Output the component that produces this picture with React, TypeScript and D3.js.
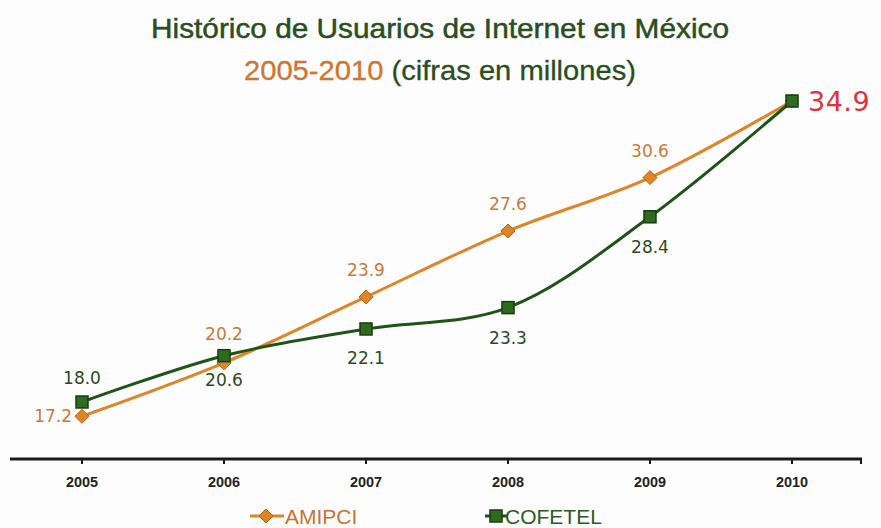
import React from "react";
import * as d3 from "d3";

const years = ["2005", "2006", "2007", "2008", "2009", "2010"];
const amipci = [17.2, 20.2, 23.9, 27.6, 30.6, 34.9];
const cofetel = [18.0, 20.6, 22.1, 23.3, 28.4, 34.9];
const amipciLabels = ["17.2", "20.2", "23.9", "27.6", "30.6", ""];
const cofetelLabels = ["18.0", "20.6", "22.1", "23.3", "28.4", ""];
const finalLabel = "34.9";
const seriesNames = ["AMIPCI", "COFETEL"];

const W = 881;
const H = 528;
const ORANGE = "#E08428";
const ORANGE_TXT = "#C97A3A";
const GREEN = "#1F5417";
const GREEN_TXT = "#2A4A22";

export default function App() {
  const x = d3.scalePoint<string>().domain(years).range([82, 792]);
  const y = d3.scaleLinear().domain([14.8, 34.9]).range([459, 101]);
  const line = d3
    .line<number>()
    .x((_, i) => x(years[i]) as number)
    .y((d) => y(d))
    .curve(d3.curveCatmullRom.alpha(0.5));

  const diamond = (cx: number, cy: number, r = 7) =>
    `M${cx},${cy - r}L${cx + r},${cy}L${cx},${cy + r}L${cx - r},${cy}Z`;

  const labelFont = "'DejaVu Sans', Verdana, sans-serif";
  const sans = "'Liberation Sans', Arial, sans-serif";

  const aPos: [number, number, string][] = [
    [-10, 6, "end"],
    [0, -23, "middle"],
    [0, -21, "middle"],
    [0, -21, "middle"],
    [0, -21, "middle"],
    [0, 0, "middle"],
  ];
  const cPos: [number, number, string][] = [
    [0, -18, "middle"],
    [0, 30, "middle"],
    [0, 35, "middle"],
    [0, 36, "middle"],
    [0, 36, "middle"],
    [0, 0, "middle"],
  ];

  return (
    <svg width={W} height={H} style={{ position: "absolute", left: 0, top: 0, background: "#fdfdfd" }}>
      <rect width={W} height={H} fill="#fdfdfd" />
      <text x={440} y={38} textAnchor="middle" fontFamily={sans} fontSize={28} fill="#2B4E1E" stroke="#2B4E1E" strokeWidth={0.5} textLength={578} lengthAdjust="spacingAndGlyphs">
        Histórico de Usuarios de Internet en México
      </text>
      <text x={440} y={80} textAnchor="middle" fontFamily={sans} fontSize={28} stroke="currentColor" strokeWidth={0.3} textLength={392} lengthAdjust="spacingAndGlyphs">
        <tspan fill="#D0742E" stroke="#D0742E">2005-2010</tspan>
        <tspan fill="#2B4E1E" stroke="#2B4E1E"> (cifras en millones)</tspan>
      </text>

      {/* axis */}
      <line x1={10} x2={862} y1={459} y2={459} stroke="#1a1a1a" strokeWidth={3} />
      {years.map((yr) => (
        <g key={yr}>
          <line x1={x(yr)} x2={x(yr)} y1={459} y2={464} stroke="#1a1a1a" strokeWidth={2} />
          <text x={x(yr)} y={487} textAnchor="middle" fontFamily={sans} fontWeight="bold" fontSize={15} fill="#222" textLength={32} lengthAdjust="spacingAndGlyphs">
            {yr}
          </text>
        </g>
      ))}
      <line x1={861} x2={861} y1={459} y2={464} stroke="#1a1a1a" strokeWidth={2} />

      {/* lines */}
      <path d={line(amipci) || ""} fill="none" stroke={ORANGE} strokeWidth={3} />
      <path d={line(cofetel) || ""} fill="none" stroke={GREEN} strokeWidth={3} />

      {amipci.map((v, i) => (
        <path key={"a" + i} d={diamond(x(years[i]) as number, y(v))} fill={ORANGE} stroke="#B85E10" strokeWidth={1} />
      ))}
      {cofetel.map((v, i) => (
        <rect key={"c" + i} x={(x(years[i]) as number) - 6} y={y(v) - 6} width={12} height={12} fill="#2E6B1E" stroke="#173D10" strokeWidth={1.5} />
      ))}

      {amipci.map((v, i) =>
        amipciLabels[i] ? (
          <text key={"al" + i} x={(x(years[i]) as number) + aPos[i][0]} y={y(v) + aPos[i][1]} textAnchor={aPos[i][2] as any} fontFamily={labelFont} fontSize={17} fill={ORANGE_TXT}>
            {amipciLabels[i]}
          </text>
        ) : null
      )}
      {cofetel.map((v, i) =>
        cofetelLabels[i] ? (
          <text key={"cl" + i} x={(x(years[i]) as number) + cPos[i][0]} y={y(v) + cPos[i][1]} textAnchor={cPos[i][2] as any} fontFamily={labelFont} fontSize={17} fill={GREEN_TXT}>
            {cofetelLabels[i]}
          </text>
        ) : null
      )}
      <text x={808} y={y(amipci[5]) + 10} fontFamily={labelFont} fontSize={27} fill="#E0323C" letterSpacing={0.5}>
        {finalLabel}
      </text>

      {/* legend */}
      <g>
        <line x1={250} x2={284} y1={516} y2={516} stroke={ORANGE} strokeWidth={3} />
        <path d={diamond(266, 516, 7)} fill={ORANGE} stroke="#B85E10" strokeWidth={1} />
        <text x={285} y={524} fontFamily={sans} fontSize={21} fill="#C8732E">
          {seriesNames[0]}
        </text>
        <line x1={485} x2={508} y1={516} y2={516} stroke={GREEN} strokeWidth={3} />
        <rect x={490} y={510} width={12} height={12} fill="#2E6B1E" stroke="#173D10" strokeWidth={1.5} />
        <text x={505} y={524} fontFamily={sans} fontSize={21} fill="#2D5A1F">
          {seriesNames[1]}
        </text>
      </g>
    </svg>
  );
}
